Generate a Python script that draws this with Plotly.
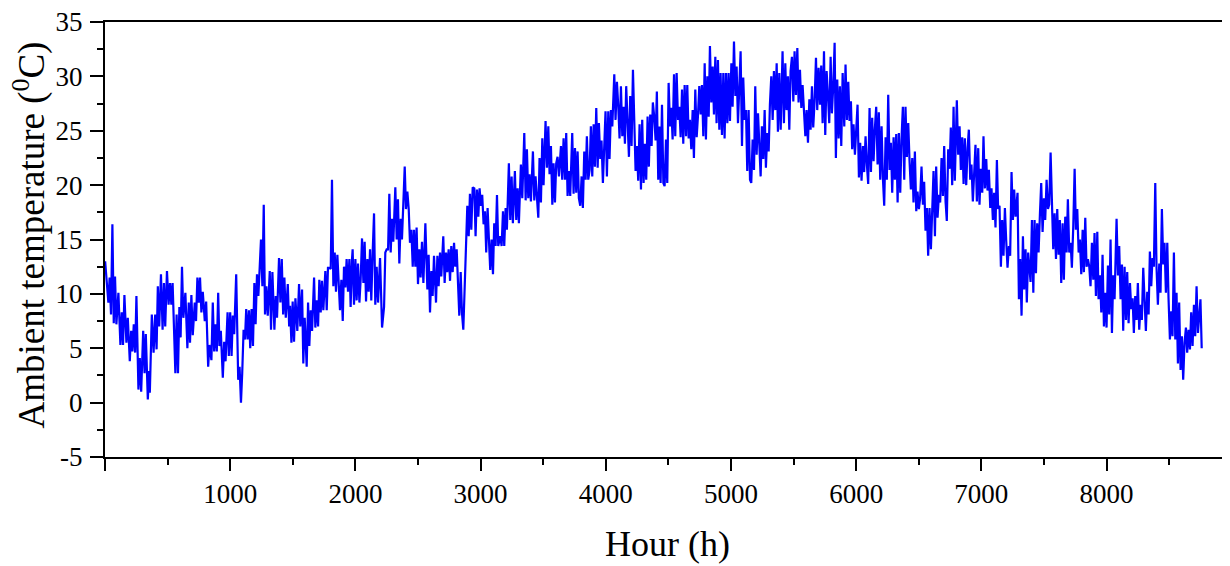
import plotly.graph_objects as go

# (hour, ambient temperature in degC) readings
seg_1 = [(1,13.0),(19,10.7),(27,9.2),(37,11.5),(48,8.1),(59,16.4),(70,7.3),(80,11.6),(91,7.2),(107,10.1),
 (123,5.3),(134,8.3),(144,5.3),(155,9.9),(171,5.5),(182,7.8),(198,3.8),(209,6.6),(219,4.7),(230,7.2),
 (241,4.6),(251,9.8),(267,1.2),(278,4.1),(289,1.0),(305,6.6),(316,2.7),(326,6.3),(342,0.3),(353,2.9),
 (358,0.9),(374,8.1),(388,4.6),(401,8.1),(412,4.9),(422,10.7),(433,7.0),(447,11.8),(460,6.7),(471,11.0),
 (481,7.0),(495,12.1),(508,9.0),(519,11.0),(530,9.0),(540,11.0),(551,6.0),(562,2.7),(572,8.1),(583,2.7),
 (594,8.8),(604,6.0),(615,12.5),(626,7.8),(642,10.1),(658,5.0),(669,9.2),(679,5.5),(690,9.9),(701,6.2),
 (717,9.2),(727,7.5),(738,11.5),(749,9.2),(759,11.5),(770,8.3),(781,10.2),(797,7.5),(808,9.3),(824,3.3),
 (834,5.3),(850,3.9),(861,9.2),(872,4.7),(882,7.2),(893,4.7),(904,10.1),(914,5.2),(925,6.6),(941,2.3),
 (952,5.6),(963,3.8),(979,8.3),(989,4.3),(1000,8.3),(1011,4.3),(1021,8.0),(1032,6.3),(1048,11.8),(1064,2.1),
 (1075,3.3),(1086,0.0),(1096,2.7),(1107,6.7),(1118,5.8),(1128,8.6),(1139,5.8),(1150,8.5),(1160,5.0),(1171,8.6),
 (1182,5.2),(1193,11.0),(1203,7.2),(1214,11.8),(1225,9.8),(1235,12.5),(1246,15.0),(1257,10.7),(1268,18.2),(1278,8.1),
 (1289,10.7),(1300,8.0),(1316,12.1),(1326,6.7),(1337,12.0),(1353,6.7),(1364,9.8),(1374,7.8),(1390,13.3),(1401,9.2),
 (1412,13.2),(1423,8.1),(1433,11.5),(1444,7.8),(1460,10.9),(1471,7.0)]

seg_2 = [(1478,8.9),(1489,5.5),(1499,9.3),(1510,5.6),(1521,9.6),(1536,6.6),(1550,10.9),(1560,7.0),(1574,10.4),(1584,3.6),
 (1595,7.8),(1611,3.3),(1622,9.2),(1632,5.2),(1643,8.5),(1654,6.6),(1670,11.5),(1680,6.9),(1691,9.4),(1702,7.0),
 (1712,11.3),(1723,8.3),(1733,11.2),(1744,8.5),(1760,12.1),(1771,8.5),(1781,12.4),(1792,12.4),(1803,12.3),(1813,20.5),
 (1824,10.7),(1835,13.8),(1845,10.2),(1856,13.6),(1867,10.1),(1877,8.5),(1888,11.3),(1899,7.5),(1909,12.5),(1920,10.6),
 (1930,13.2),(1941,10.2),(1952,13.2),(1962,8.8),(1973,13.2),(1978,14.1),(1989,9.0),(2000,13.2),(2010,9.4),(2021,12.8),
 (2032,9.2),(2042,11.3),(2053,15.1),(2064,11.0),(2074,14.8),(2085,9.3),(2096,13.2),(2106,10.2),(2117,14.1),(2127,9.4),
 (2138,13.8),(2149,17.4),(2159,9.0),(2170,12.5),(2181,9.2),(2197,13.3),(2213,6.9),(2229,8.8),(2239,13.8),(2250,14.1),
 (2261,14.1),(2271,19.2),(2282,13.8),(2292,16.9),(2303,14.8),(2319,19.8),(2330,15.0),(2340,18.7),(2351,12.8),(2362,16.9),
 (2372,15.0),(2383,17.8),(2394,21.7),(2404,17.8),(2415,19.4),(2426,17.8),(2436,14.7),(2447,15.9),(2458,12.5),(2468,15.9),
 (2479,12.5),(2489,16.1),(2500,10.9),(2511,14.1),(2521,11.5),(2532,14.8),(2543,11.0),(2559,16.5),(2575,10.4),(2585,13.6),
 (2596,8.3),(2607,12.1),(2617,9.8),(2628,13.5),(2644,9.2),(2655,13.5),(2665,10.7),(2676,13.8),(2686,11.6),(2702,15.3),
 (2713,11.0),(2724,13.8),(2734,12.0),(2745,14.1),(2756,11.2),(2766,14.4),(2777,12.0),(2788,14.7),(2798,12.5),(2809,14.1),
 (2820,11.0),(2830,8.0),(2841,12.0),(2851,8.3),(2862,6.7),(2873,11.0),(2883,13.8),(2894,18.1),(2905,15.3),(2915,19.2),
 (2926,15.9),(2937,19.8)]

seg_3 = [(2950,19.7),(2960,15.3),(2971,19.6),(2982,17.1),(2992,19.7),(3003,18.1),(3013,19.1),(3024,16.4),(3035,17.6),(3045,13.8),
 (3056,17.9),(3067,14.1),(3077,12.2),(3088,15.0),(3099,11.8),(3109,16.5),(3120,14.4),(3131,19.1),(3141,14.4),(3157,15.3),
 (3168,14.4),(3179,17.6),(3189,14.4),(3200,17.9),(3210,15.9),(3226,22.0),(3237,16.8),(3248,20.8),(3258,16.5),(3274,21.3),
 (3285,16.8),(3296,19.7),(3306,16.5),(3322,21.9),(3333,18.8),(3349,24.8),(3360,18.6),(3370,23.3),(3381,18.8),(3391,21.0),
 (3402,18.5),(3418,23.1),(3429,18.6),(3439,20.8),(3450,18.5),(3461,17.0),(3471,22.5),(3482,18.4),(3493,24.3),(3503,20.0),
 (3519,25.9),(3530,21.6),(3541,25.4),(3551,21.0),(3562,23.6),(3573,18.2),(3583,22.0),(3594,18.4),(3604,22.0),(3615,22.6),
 (3626,20.8),(3642,23.6),(3652,20.5),(3663,24.3),(3674,20.5),(3684,24.8),(3695,19.0),(3706,21.3),(3716,19.0),(3732,24.8),
 (3743,19.2),(3754,23.4),(3764,19.3),(3775,23.1),(3785,18.8),(3796,18.1),(3807,20.8),(3817,17.9),(3828,23.1),(3839,20.5),
 (3849,24.5),(3860,20.5),(3871,21.4),(3881,25.4),(3892,20.8),(3903,25.6),(3913,21.7),(3924,27.1),(3935,21.6),(3945,25.7),
 (3956,22.4),(3966,24.1),(3977,20.2),(3988,24.1),(3998,26.8),(4009,20.8),(4020,26.8),(4030,22.4),(4041,26.9),(4052,25.4),
 (4068,30.2),(4078,26.0),(4089,29.5),(4100,27.2),(4110,24.3),(4121,29.1),(4132,24.5),(4142,27.2),(4153,23.8),(4163,29.1),
 (4174,26.0),(4185,22.6),(4195,28.2),(4206,23.6),(4217,30.6),(4227,26.0),(4238,21.3),(4249,23.6),(4259,20.4),(4270,25.6),
 (4281,19.6),(4291,26.0),(4302,20.2),(4313,23.8),(4323,20.5),(4334,26.3),(4344,21.7),(4355,26.5),(4366,23.6),(4376,27.6),
 (4387,26.3),(4398,24.1),(4408,28.6),(4419,20.5)]

seg_4 = [(4428,25.4),(4438,20.2),(4449,27.4),(4460,20.2),(4470,19.9),(4481,24.2),(4491,20.2),(4502,29.4),(4513,25.4),(4523,27.1),
 (4534,24.2),(4545,30.2),(4555,24.5),(4566,30.3),(4577,26.0),(4587,27.2),(4598,24.4),(4609,28.8),(4619,23.8),(4630,29.2),
 (4641,24.5),(4651,29.2),(4662,24.3),(4672,26.0),(4683,23.3),(4694,26.9),(4704,22.5),(4715,28.8),(4726,24.4),(4736,26.3),
 (4747,29.1),(4758,26.5),(4768,29.2),(4779,24.5),(4790,31.2),(4800,24.2),(4811,30.0),(4822,26.3),(4832,32.8),(4843,27.6),
 (4854,30.9),(4864,26.5),(4875,31.8),(4885,25.7),(4896,31.5),(4907,25.1),(4917,30.3),(4928,24.6),(4939,30.3),(4949,24.3),
 (4960,30.3),(4971,25.7),(4981,30.3),(4992,25.9),(5003,31.2),(5013,27.2),(5024,33.2),(5035,28.2),(5045,30.9),(5056,25.7),
 (5066,30.0),(5077,32.3),(5088,23.6),(5098,29.9),(5109,26.0),(5120,26.9),(5130,21.3),(5141,26.9),(5152,20.5),(5162,20.2),
 (5173,24.2),(5184,21.4),(5194,29.1),(5205,22.8),(5216,26.6),(5226,22.8),(5237,20.8),(5247,25.4),(5258,22.4),(5269,26.9),
 (5279,21.6),(5290,24.8),(5301,23.1),(5311,27.4),(5322,30.0),(5333,26.0),(5343,30.5),(5354,26.9),(5365,31.2),(5375,24.9),
 (5386,30.3),(5397,25.1),(5412,32.3),(5423,25.7),(5434,31.2),(5444,26.9),(5455,30.0),(5466,25.1),(5476,30.5),(5487,31.8),
 (5498,27.7),(5508,32.3),(5519,28.3),(5530,32.6),(5540,27.6),(5551,30.6),(5562,27.1),(5572,29.2),(5583,26.6),(5594,24.5),
 (5604,26.9),(5615,23.9),(5626,27.9),(5636,25.1),(5647,29.1),(5657,25.3),(5668,27.7),(5679,31.7),(5689,26.9),(5700,30.8),
 (5711,27.4),(5721,31.0),(5732,25.7),(5743,32.3),(5753,24.6),(5764,30.5),(5775,28.2),(5785,25.7),(5796,31.8),(5806,26.6),
 (5817,29.1),(5828,33.1),(5838,22.5),(5849,29.7),(5860,24.3),(5870,29.1),(5881,23.6),(5892,30.3)]

seg_5 = [(5905,25.4),(5915,31.1),(5926,26.0),(5937,29.5),(5947,25.9),(5958,27.7),(5968,23.3),(5979,25.6),(5990,22.8),(6000,25.4),
 (6011,27.4),(6022,20.7),(6032,23.9),(6043,20.4),(6054,23.6),(6064,21.2),(6075,24.5),(6086,21.8),(6096,20.1),(6107,27.1),
 (6118,21.2),(6128,26.2),(6139,22.2),(6149,25.1),(6160,27.2),(6171,21.9),(6181,26.7),(6192,20.5),(6203,25.4),(6213,20.8),
 (6224,18.1),(6235,24.4),(6245,20.5),(6256,28.3),(6267,21.4),(6277,23.9),(6288,19.3),(6299,24.4),(6309,20.5),(6320,24.7),
 (6331,18.4),(6341,24.8),(6352,19.3),(6362,24.2),(6373,27.2),(6384,20.5),(6394,27.2),(6405,22.6),(6416,25.7),(6426,22.3),
 (6437,19.6),(6448,22.5),(6458,18.4),(6469,23.1),(6480,17.6),(6490,19.4),(6501,17.8),(6511,18.8),(6522,21.7),(6533,18.2),
 (6543,20.3),(6554,15.8),(6565,17.9),(6575,13.5),(6586,17.9),(6597,14.1),(6607,18.7),(6618,21.3),(6629,15.3),(6639,21.7),
 (6650,17.0),(6661,19.1),(6671,18.4),(6682,22.5),(6693,19.0),(6703,23.6),(6714,18.5),(6724,16.7),(6735,23.3),(6746,21.5),
 (6756,25.3),(6767,20.0),(6778,27.2),(6788,20.4),(6804,27.8),(6815,22.8),(6826,25.4),(6836,21.4),(6847,24.4),(6858,20.1),
 (6868,24.3),(6879,20.0),(6890,23.4),(6900,25.1),(6911,20.5),(6921,21.9),(6932,18.5),(6943,21.6),(6953,23.7),(6964,18.5),
 (6975,23.4),(6985,18.2),(6996,21.5),(7007,19.3),(7017,24.5),(7028,19.7),(7039,22.4),(7049,19.5),(7060,21.4),(7071,17.9),
 (7081,19.7),(7092,16.8),(7102,19.3),(7113,16.1),(7124,22.3),(7134,17.8),(7145,18.1),(7156,12.5),(7166,16.8),(7177,13.5),
 (7188,17.9),(7198,15.0),(7209,12.4),(7220,14.4),(7230,13.5),(7241,21.2),(7252,16.8),(7262,19.6),(7273,17.1),(7289,19.3),
 (7300,9.5),(7310,13.2),(7321,8.0),(7332,15.3),(7342,10.4),(7353,14.1),(7363,9.2),(7374,13.8)]

seg_6 = [(7393,11.1),(7404,16.8),(7415,10.1),(7425,16.8),(7436,11.9),(7446,16.5),(7457,13.8),(7468,17.4),(7478,20.2),(7489,15.7),
 (7500,18.8),(7510,16.8),(7521,20.5),(7532,17.8),(7542,18.2),(7553,23.0),(7564,17.8),(7574,14.1),(7585,17.4),(7596,13.2),
 (7606,17.8),(7617,13.6),(7627,16.8),(7638,11.0),(7649,16.5),(7659,11.3),(7670,17.1),(7681,13.8),(7691,18.7),(7702,13.8),
 (7713,14.7),(7723,12.4),(7734,16.2),(7745,21.5),(7755,15.9),(7766,17.8),(7777,13.8),(7787,15.0),(7798,11.8),(7809,15.9),
 (7819,12.0),(7830,17.0),(7840,12.5),(7851,13.2),(7862,12.5),(7872,10.7),(7883,14.7),(7894,11.3),(7904,15.6),(7915,9.8),
 (7926,15.7),(7936,9.5),(7947,11.7),(7958,8.3),(7968,13.6),(7979,7.0),(7990,10.1),(8000,6.9),(8011,12.6),(8021,8.1),
 (8032,15.0),(8043,6.4),(8053,11.7),(8064,9.5),(8080,16.9),(8091,11.7),(8101,14.4),(8112,9.5),(8123,12.7),(8133,6.6),
 (8144,12.5),(8155,7.6),(8165,12.0),(8176,7.3),(8187,11.0),(8197,8.6),(8208,9.6),(8218,6.4),(8229,9.8),(8240,7.6),
 (8250,11.0),(8261,6.7),(8272,9.0),(8282,7.6),(8293,12.4),(8304,8.6),(8314,6.6),(8325,10.2),(8336,8.1),(8346,13.9),
 (8357,10.7),(8367,13.3),(8378,12.5),(8389,20.2),(8399,12.5),(8410,9.0),(8421,12.8),(8431,10.1),(8442,17.8),(8453,12.7),
 (8463,14.7),(8474,10.1),(8485,14.7),(8495,9.6),(8506,5.8),(8517,8.4),(8527,6.1),(8538,13.8),(8549,5.8),(8559,10.1),
 (8570,3.6),(8580,9.2),(8591,3.0),(8602,6.1),(8612,2.1),(8623,5.5),(8634,6.9),(8644,4.6),(8655,6.7),(8666,4.9),
 (8676,8.3),(8687,5.2),(8698,9.0),(8708,6.1),(8719,10.7),(8730,6.4),(8740,8.3),(8750,9.5),(8760,5.0)]

x_tick_vals = [0, 1000, 2000, 3000, 4000, 5000, 6000, 7000, 8000]
x_tick_text = ["", "1000", "2000", "3000", "4000", "5000", "6000", "7000", "8000"]
x_minor_vals = [500, 1500, 2500, 3500, 4500, 5500, 6500, 7500, 8500]
y_tick_vals = [-5, 0, 5, 10, 15, 20, 25, 30, 35]
y_tick_text = ["-5", "0", "5", "10", "15", "20", "25", "30", "35"]
y_minor_vals = [-2.5, 2.5, 7.5, 12.5, 17.5, 22.5, 27.5, 32.5]
x_title = "Hour (h)"
y_title = "Ambient temperature (<sup>0</sup>C)"

readings = seg_1 + seg_2 + seg_3 + seg_4 + seg_5 + seg_6
hours = [h for h, _ in readings]
temps = [t for _, t in readings]

font_family = "Liberation Serif, Times New Roman, serif"

fig = go.Figure()
fig.add_trace(go.Scatter(x=hours, y=temps, mode="lines",
                         line=dict(color="#0000FF", width=2.2), showlegend=False,
                         hoverinfo="skip"))

# the page body adds an 8 px offset, so the figure is sized 1222x558
fig.update_layout(
    width=1222, height=558,
    margin=dict(l=97, r=0, t=14, b=109),
    paper_bgcolor="white", plot_bgcolor="white",
    font=dict(family=font_family, color="black"),
    annotations=[
        dict(text=x_title, xref="paper", yref="paper", x=0.5, y=0,
             xanchor="center", yanchor="middle", yshift=-87, showarrow=False,
             font=dict(size=36, family=font_family, color="black")),
        dict(text=y_title, xref="paper", yref="paper", x=0, y=0.5,
             xanchor="center", yanchor="middle", xshift=-76, yshift=4,
             textangle=-90, showarrow=False,
             font=dict(size=37, family=font_family, color="black")),
    ],
)

fig.update_xaxes(
    range=[0, 8986], showgrid=False, zeroline=False, automargin=False,
    showline=True, linecolor="black", linewidth=2, mirror=True,
    tickmode="array", tickvals=x_tick_vals, ticktext=x_tick_text,
    ticks="outside", ticklen=12, tickwidth=2, tickcolor="black",
    minor=dict(tickmode="array", tickvals=x_minor_vals, ticks="outside",
               ticklen=6, tickwidth=2, tickcolor="black", showgrid=False),
    tickfont=dict(size=27, family=font_family, color="black"),
    ticklabelstandoff=0, ticklabeloverflow="allow",
)

fig.update_yaxes(
    range=[-5, 35], showgrid=False, zeroline=False, automargin=False,
    showline=True, linecolor="black", linewidth=2, mirror=False,
    tickmode="array", tickvals=y_tick_vals, ticktext=y_tick_text,
    ticks="outside", ticklen=13, tickwidth=2, tickcolor="black",
    minor=dict(tickmode="array", tickvals=y_minor_vals, ticks="outside",
               ticklen=6, tickwidth=2, tickcolor="black", showgrid=False),
    tickfont=dict(size=27, family=font_family, color="black"),
    ticklabelstandoff=2, ticklabeloverflow="allow",
)

fig.write_html("out.html")
